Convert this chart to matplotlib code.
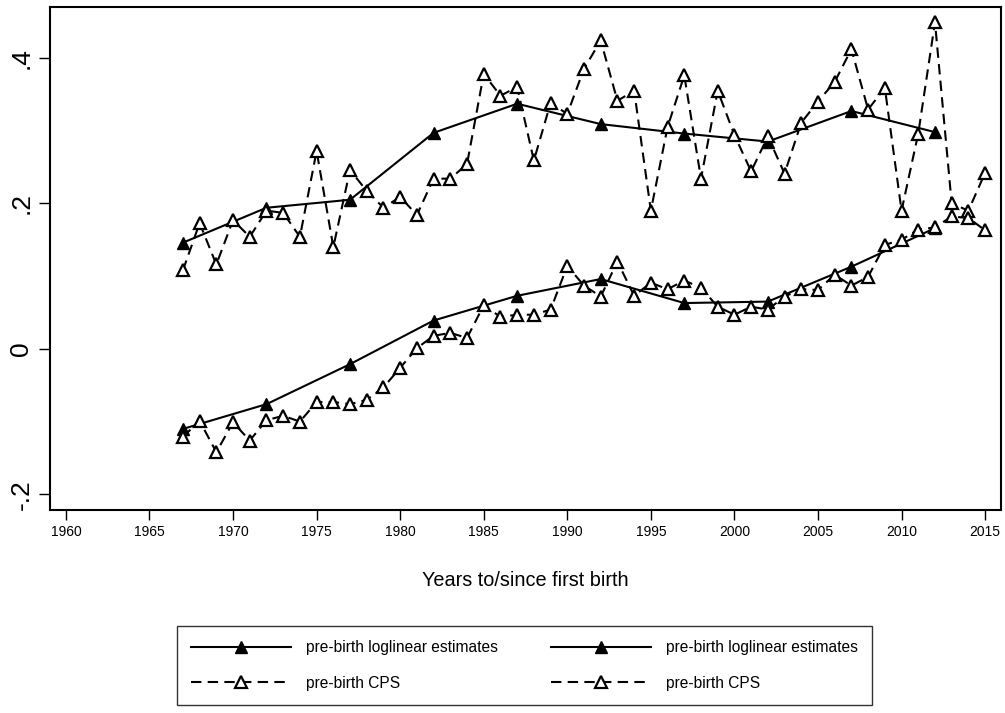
import numpy as np
import matplotlib.pyplot as plt

plt.rcParams['font.family'] = ['Liberation Sans', 'DejaVu Sans']

est_years = [1967, 1972, 1977, 1982, 1987, 1992, 1997, 2002, 2007, 2012]
est_upper = [0.146, 0.194, 0.205, 0.297, 0.337, 0.309, 0.296, 0.285, 0.327, 0.298]
est_lower = [-0.110, -0.076, -0.021, 0.039, 0.073, 0.096, 0.063, 0.065, 0.113, 0.166]

cps_years = list(range(1967, 2016))
cps_upper = [0.108, 0.173, 0.116, 0.177, 0.154, 0.190, 0.187, 0.154, 0.272, 0.140,
             0.246, 0.217, 0.194, 0.209, 0.184, 0.234, 0.234, 0.254, 0.378, 0.348,
             0.360, 0.259, 0.338, 0.323, 0.385, 0.424, 0.341, 0.355, 0.190, 0.305,
             0.376, 0.234, 0.355, 0.294, 0.244, 0.292, 0.241, 0.311, 0.340, 0.367,
             0.412, 0.329, 0.359, 0.190, 0.296, 0.449, 0.200, 0.190, 0.242]
cps_lower = [-0.121, -0.099, -0.142, -0.101, -0.126, -0.098, -0.092, -0.100, -0.073, -0.073,
             -0.076, -0.070, -0.053, -0.026, 0.001, 0.018, 0.022, 0.015, 0.060, 0.044,
             0.047, 0.047, 0.054, 0.114, 0.087, 0.072, 0.120, 0.073, 0.091, 0.082,
             0.094, 0.084, 0.058, 0.047, 0.058, 0.054, 0.072, 0.082, 0.081, 0.102,
             0.087, 0.099, 0.143, 0.150, 0.164, 0.167, 0.182, 0.180, 0.163]

x_ticks = list(range(1960, 2016, 5))
y_ticks = [-0.2, 0, 0.2, 0.4]
y_labels = ['-.2', '0', '.2', '.4']

fig = plt.figure(figsize=(10.05, 7.13), dpi=100)
ax = fig.add_axes([0.0498, 0.2847, 0.9462, 0.7055])

solid = dict(color='black', lw=1.5, marker='^', markersize=9,
             markerfacecolor='black', markeredgecolor='black')
dashed = dict(color='black', lw=1.5, marker='^', markersize=9, linestyle=(0, (5, 3)),
              markerfacecolor='white', markeredgecolor='black', markeredgewidth=1.6)

h1, = ax.plot(est_years, est_upper, label='pre-birth loglinear estimates', **solid)
h2, = ax.plot(cps_years, cps_upper, label='pre-birth CPS', **dashed)
h3, = ax.plot(est_years, est_lower, label='pre-birth loglinear estimates', **solid)
h4, = ax.plot(cps_years, cps_lower, label='pre-birth CPS', **dashed)

ax.set_xlim(1959.05, 2015.95)
ax.set_ylim(-0.2215, 0.470)
ax.set_xticks(x_ticks)
ax.set_yticks(y_ticks)
ax.set_yticklabels(y_labels, rotation=90, va='center', fontsize=19)
ax.tick_params(axis='x', labelsize=10, length=7, width=1, direction='out')
ax.tick_params(axis='y', length=8, width=1, direction='out', pad=4)
for s in ax.spines.values():
    s.set_linewidth(1.5)
ax.set_xlabel('Years to/since first birth', fontsize=14.3, labelpad=23)

fig.legend(handles=[h1, h2, h3, h4], ncol=2, loc='center',
           bbox_to_anchor=(0.522, 0.0666), frameon=True, fancybox=False,
           edgecolor='black', fontsize=11.2, handlelength=6.4, columnspacing=3.4,
           borderpad=0.9, labelspacing=1.3, handletextpad=1.0, borderaxespad=0)
fig.legends[0].get_frame().set_linewidth(1.0)

fig.savefig('out.png', dpi=100)
